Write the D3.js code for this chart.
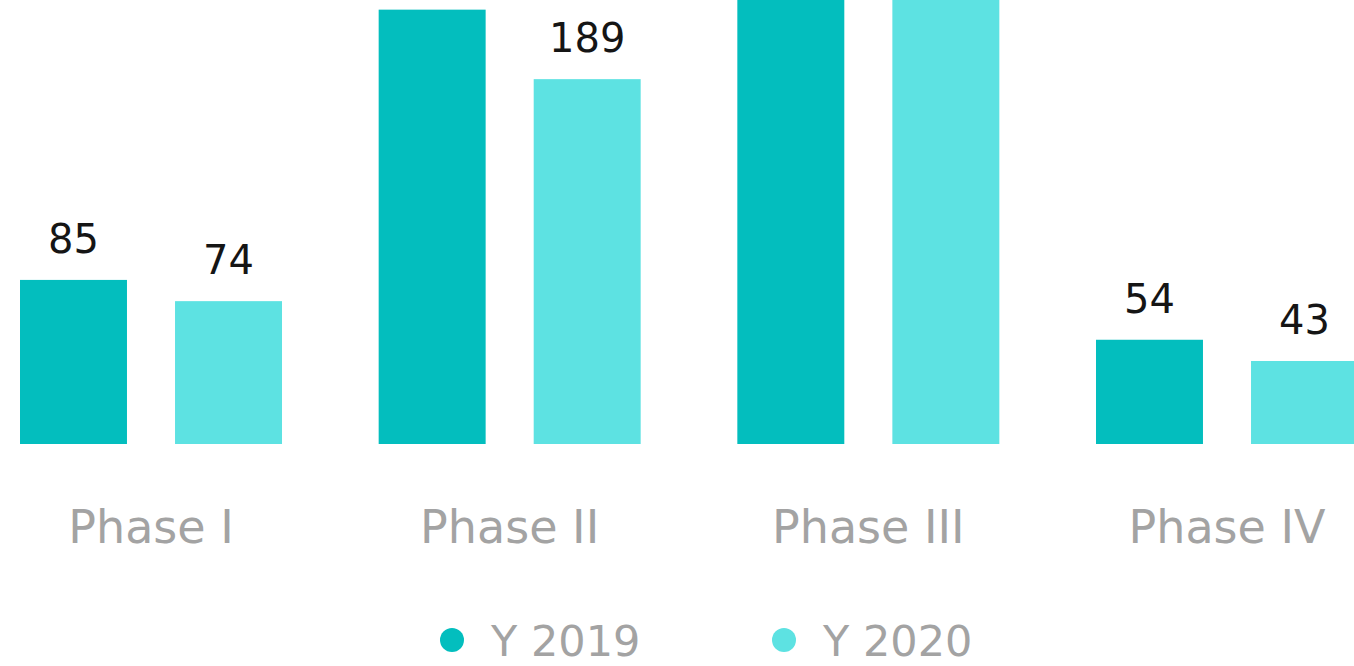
<!DOCTYPE html>
<html>
<head>
<meta charset="utf-8">
<script src="https://cdn.jsdelivr.net/npm/d3@7/dist/d3.min.js"></script>
<style>
html,body{margin:0;padding:0;background:#fff;overflow:hidden;}
svg{display:block;}
</style>
</head>
<body>
<svg id="chart" width="1354" height="666"></svg>
<script>
const categories = ["Phase I", "Phase II", "Phase III", "Phase IV"];
const seriesNames = ["Y 2019", "Y 2020"];
const values2019 = [85, 225, 250, 54];
const values2020 = [74, 189, 245, 43];
const colors = ["#03BEBE", "#5DE2E2"];

const svg = d3.select("#chart");
const font = "'DejaVu Sans', sans-serif";

const x0 = d3.scaleBand().domain(categories).range([20, 1358]).paddingInner(0.2695).paddingOuter(0);
const x1 = d3.scaleBand().domain(seriesNames).range([0, x0.bandwidth()]).paddingInner(0.31).paddingOuter(0);
const y = d3.scaleLinear().domain([0, 230]).range([444, 0]);

const data = categories.map((c, i) => ({
  cat: c,
  vals: [
    {s: seriesNames[0], v: values2019[i], color: colors[0]},
    {s: seriesNames[1], v: values2020[i], color: colors[1]}
  ]
}));

const g = svg.selectAll("g.grp").data(data).enter().append("g")
  .attr("class", "grp")
  .attr("transform", d => `translate(${x0(d.cat)},0)`);

g.selectAll("rect").data(d => d.vals).enter().append("rect")
  .attr("x", d => x1(d.s))
  .attr("y", d => y(d.v))
  .attr("width", x1.bandwidth())
  .attr("height", d => y(0) - y(d.v))
  .attr("fill", d => d.color);

// value labels (those that would fall above the visible area are cropped off in the reference)
g.selectAll("text.val").data(d => d.vals.filter(o => y(o.v) - 27 - 30 > 0)).enter().append("text")
  .attr("class", "val")
  .attr("x", d => x1(d.s) + x1.bandwidth() / 2)
  .attr("y", d => y(d.v) - 27)
  .attr("text-anchor", "middle")
  .attr("font-family", font)
  .attr("font-size", 40)
  .attr("fill", "#151515")
  .text(d => d.v);

// category axis labels
const xAxis = d3.axisBottom(x0).tickSize(0).tickPadding(0);
const ax = svg.append("g").attr("transform", "translate(0,508)").call(xAxis);
ax.select(".domain").remove();
ax.selectAll("text")
  .attr("dy", 0)
  .attr("y", 35)
  .attr("font-family", font)
  .attr("font-size", 46)
  .attr("fill", "#A3A3A3");

// legend
const legendX = [452, 784];
const lg = svg.selectAll("g.leg").data(seriesNames).enter().append("g")
  .attr("class", "leg")
  .attr("transform", (d, i) => `translate(${legendX[i]},640)`);
lg.append("circle").attr("r", 12).attr("fill", (d, i) => colors[i]);
lg.append("text")
  .attr("x", 39)
  .attr("y", 16)
  .attr("font-family", font)
  .attr("font-size", 43)
  .attr("fill", "#A3A3A3")
  .text(d => d);
</script>
</body>
</html>
